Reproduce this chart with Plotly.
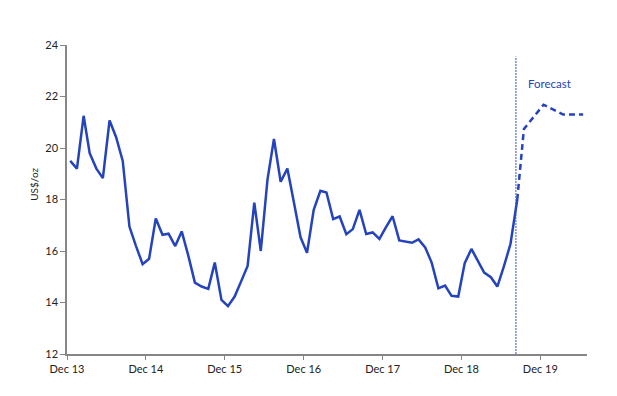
import pandas as pd
import plotly.graph_objects as go

# Monthly actual prices, Dec 2013 .. Aug 2019 (US$/oz)
actual_values = [
    19.5, 19.2, 21.25, 19.8, 19.2, 18.83, 21.07, 20.43, 19.5, 16.95, 16.2, 15.49,  # Dec13-Nov14
    15.7, 17.26, 16.63, 16.67, 16.19, 16.76, 15.8, 14.77, 14.62, 14.53, 15.55, 14.1,  # Dec14-Nov15
    13.86, 14.23, 14.84, 15.42, 17.88, 16.0, 18.77, 20.35, 18.69, 19.2, 17.9, 16.53,  # Dec15-Nov16
    15.93, 17.6, 18.34, 18.27, 17.24, 17.34, 16.65, 16.85, 17.6, 16.66, 16.72, 16.47,  # Dec16-Nov17
    16.92, 17.35, 16.41, 16.38, 16.32, 16.45, 16.14, 15.55, 14.55, 14.66, 14.26, 14.23,  # Dec17-Nov18
    15.53, 16.08, 15.61, 15.16, 14.98, 14.62, 15.42, 16.28, 17.99,  # Dec18-Aug19
]
actual_months = pd.date_range("2013-12-01", periods=len(actual_values), freq="MS") + pd.Timedelta(days=15)

forecast_months = pd.to_datetime(["2019-08-16", "2019-09-16", "2019-12-16", "2020-03-16", "2020-06-16"])
forecast_values = [17.99, 20.74, 21.68, 21.3, 21.3]

tick_dates = pd.to_datetime(["2013-12-01", "2014-12-01", "2015-12-01", "2016-12-01",
                             "2017-12-01", "2018-12-01", "2019-12-01"])
tick_labels = ["Dec 13", "Dec 14", "Dec 15", "Dec 16", "Dec 17", "Dec 18", "Dec 19"]
forecast_start = "2019-08-10"

line_color = "#2443BD"
font_family = "Lato, 'Open Sans', sans-serif"

fig = go.Figure()
fig.add_trace(go.Scatter(x=actual_months, y=actual_values, mode="lines",
                         line=dict(color=line_color, width=2.5), showlegend=False))
fig.add_trace(go.Scatter(x=forecast_months, y=forecast_values, mode="lines",
                         line=dict(color=line_color, width=2.5, dash="6px,4px"), showlegend=False))

fig.add_shape(type="line", xref="x", yref="y", x0=forecast_start, x1=forecast_start,
              y0=12, y1=23.55, line=dict(color="#2F52D6", width=1, dash="2px,1px"))

fig.add_annotation(text="Forecast", xref="paper", yref="paper", x=0.882, y=0.875,
                   xanchor="left", yanchor="middle", showarrow=False,
                   font=dict(family=font_family, size=11.5, color="#2443BD"))
fig.add_annotation(text="US$/oz", xref="paper", yref="paper", x=-0.064, y=0.55,
                   xanchor="center", yanchor="middle", textangle=-90, showarrow=False,
                   font=dict(family=font_family, size=10, color="#222222"))

fig.update_xaxes(type="date", range=["2013-12-01", "2020-07-04"],
                 tickmode="array", tickvals=tick_dates, ticktext=tick_labels,
                 showline=True, linecolor="#868686", linewidth=2,
                 ticks="outside", ticklen=4, tickcolor="#868686", tickwidth=1,
                 showgrid=False, zeroline=False,
                 tickfont=dict(family=font_family, size=11, color="#222222"))
fig.update_yaxes(range=[12, 24], tickmode="array", tickvals=[12, 14, 16, 18, 20, 22, 24],
                 showline=True, linecolor="#868686", linewidth=1.5,
                 ticks="outside", ticklen=5, tickcolor="#868686", tickwidth=1,
                 showgrid=False, zeroline=False,
                 tickfont=dict(family=font_family, size=11, color="#222222"))

fig.update_layout(width=609, height=388, margin=dict(l=59, r=30, t=37, b=42),
                  plot_bgcolor="white", paper_bgcolor="white")

fig.write_html("out.html")
